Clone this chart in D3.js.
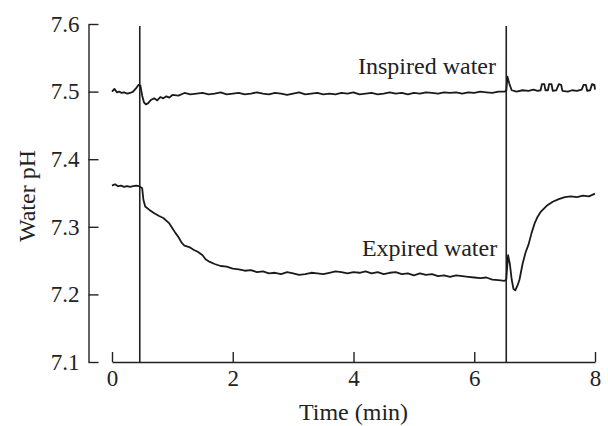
<!DOCTYPE html>
<html lang="en">
<head>
    <meta charset="UTF-8">
    <title>Water pH</title>
    <script src="https://d3js.org/d3.v7.min.js"></script>
    <style>
        body { margin: 0; background: #fff; }
        svg { display: block; font-family: "Liberation Serif", "Times New Roman", serif; }
    </style>
    <script>
        // event markers (min)
        const EVENTS = [0.46, 6.53];

        const X_TICKS = [0, 2, 4, 6, 8];
        const Y_TICKS = [7.1, 7.2, 7.3, 7.4, 7.5, 7.6];

        const inspiredTime = [
            0.00, 0.04, 0.08, 0.12, 0.16, 0.20, 0.25, 0.30, 0.35, 0.40, 0.44, 0.47, 0.50, 0.53, 0.56, 0.60,
            0.65, 0.70, 0.75, 0.80, 0.85, 0.90, 0.95, 1.00, 1.10, 1.20, 1.30, 1.40, 1.50, 1.60, 1.70, 1.80,
            1.90, 2.00, 2.10, 2.20, 2.30, 2.40, 2.50, 2.60, 2.70, 2.80, 2.90, 3.00, 3.10, 3.20, 3.30, 3.40,
            3.50, 3.60, 3.70, 3.80, 3.90, 4.00, 4.10, 4.20, 4.30, 4.40, 4.50, 4.60, 4.70, 4.80, 4.90, 5.00,
            5.10, 5.20, 5.30, 5.40, 5.50, 5.60, 5.70, 5.80, 5.90, 6.00, 6.10, 6.20, 6.30, 6.40, 6.50, 6.53,
            6.55, 6.58, 6.62, 6.70, 6.80, 6.90, 6.98, 7.05, 7.10, 7.12, 7.16, 7.18, 7.22, 7.24, 7.28, 7.30,
            7.36, 7.40, 7.44, 7.46, 7.55, 7.62, 7.70, 7.78, 7.81, 7.85, 7.87, 7.92, 7.95, 7.99, 8.00
        ];
        const inspiredPH = [
            7.500, 7.504, 7.499, 7.500, 7.498, 7.499, 7.497, 7.498, 7.500, 7.505, 7.510, 7.509, 7.494, 7.484, 7.481, 7.483,
            7.488, 7.490, 7.487, 7.492, 7.490, 7.493, 7.491, 7.495, 7.494, 7.498, 7.496, 7.497, 7.498, 7.496, 7.497, 7.499,
            7.496, 7.497, 7.498, 7.496, 7.497, 7.499, 7.497, 7.496, 7.498, 7.497, 7.495, 7.497, 7.499, 7.496, 7.497, 7.498,
            7.496, 7.497, 7.496, 7.498, 7.497, 7.499, 7.496, 7.497, 7.498, 7.496, 7.497, 7.499, 7.497, 7.498, 7.496, 7.498,
            7.497, 7.499, 7.498, 7.497, 7.499, 7.498, 7.499, 7.497, 7.499, 7.498, 7.500, 7.499, 7.498, 7.500, 7.500, 7.501,
            7.522, 7.512, 7.502, 7.500, 7.502, 7.501, 7.503, 7.501, 7.502, 7.511, 7.511, 7.502, 7.502, 7.511, 7.511, 7.501,
            7.502, 7.511, 7.510, 7.501, 7.500, 7.502, 7.501, 7.503, 7.510, 7.510, 7.501, 7.502, 7.511, 7.510, 7.503
        ];

        const expiredTime = [
            0.00, 0.05, 0.10, 0.15, 0.20, 0.25, 0.30, 0.35, 0.40, 0.45, 0.50, 0.52, 0.55, 0.62, 0.70, 0.78,
            0.85, 0.95, 1.00, 1.05, 1.10, 1.15, 1.20, 1.28, 1.35, 1.42, 1.50, 1.55, 1.62, 1.70, 1.80, 1.90,
            2.00, 2.10, 2.20, 2.30, 2.40, 2.50, 2.60, 2.70, 2.80, 2.90, 3.00, 3.10, 3.20, 3.30, 3.40, 3.50,
            3.60, 3.70, 3.80, 3.90, 4.00, 4.10, 4.20, 4.30, 4.40, 4.50, 4.60, 4.70, 4.80, 4.90, 5.00, 5.10,
            5.20, 5.30, 5.40, 5.50, 5.60, 5.70, 5.80, 5.90, 6.00, 6.10, 6.20, 6.30, 6.40, 6.50, 6.53, 6.56,
            6.59, 6.62, 6.65, 6.68, 6.72, 6.75, 6.80, 6.85, 6.90, 6.95, 7.00, 7.05, 7.10, 7.20, 7.30, 7.40,
            7.50, 7.60, 7.70, 7.80, 7.90, 8.00
        ];
        const expiredPH = [
            7.361, 7.363, 7.360, 7.361, 7.359, 7.360, 7.359, 7.360, 7.361, 7.360, 7.357, 7.340, 7.330, 7.325, 7.320, 7.316,
            7.313, 7.305, 7.298, 7.291, 7.285, 7.277, 7.272, 7.270, 7.266, 7.263, 7.258, 7.252, 7.248, 7.245, 7.242, 7.241,
            7.238, 7.237, 7.235, 7.236, 7.233, 7.234, 7.231, 7.232, 7.230, 7.233, 7.231, 7.229, 7.230, 7.232, 7.231, 7.230,
            7.232, 7.234, 7.233, 7.231, 7.233, 7.232, 7.234, 7.231, 7.233, 7.230, 7.232, 7.233, 7.230, 7.231, 7.228, 7.231,
            7.229, 7.230, 7.227, 7.228, 7.226, 7.228, 7.227, 7.226, 7.225, 7.224, 7.225, 7.222, 7.221, 7.220, 7.222, 7.258,
            7.245, 7.222, 7.208, 7.206, 7.214, 7.222, 7.245, 7.262, 7.274, 7.291, 7.305, 7.315, 7.322, 7.331, 7.337, 7.341,
            7.344, 7.345, 7.344, 7.346, 7.345, 7.349
        ];

        const LABELS = [
            {text: "Inspired water", t: 6.36, ph: 7.526},
            {text: "Expired water", t: 6.38, ph: 7.257}
        ];

        document.addEventListener("DOMContentLoaded", function() {
            drawChart();
        });

        function drawChart() {
            const width = 608, height = 426;
            const svg = d3.select("svg").attr("width", width).attr("height", height);

            const x = d3.scaleLinear().domain([0, 8]).range([112, 595]);
            const y = d3.scaleLinear().domain([7.1, 7.6]).range([362, 24]);
            const yAxisX = 88.5;

            // y axis, ticks pointing in
            const yAxis = svg.append("g")
                .attr("transform", "translate(" + yAxisX + ",0)")
                .call(d3.axisLeft(y).tickValues(Y_TICKS).tickFormat(d3.format(".1f"))
                    .tickSizeInner(-10).tickSizeOuter(0).tickPadding(9));

            const xAxis = svg.append("g")
                .attr("transform", "translate(0,362)")
                .call(d3.axisBottom(x).tickValues(X_TICKS).tickFormat(d3.format("d"))
                    .tickSizeInner(-10).tickSizeOuter(0).tickPadding(8));

            [yAxis, xAxis].forEach(function(g) {
                g.selectAll("path, line").attr("stroke", "#222").attr("stroke-width", 1.4);
                g.selectAll("text").attr("fill", "#222").style("font-size", "23px")
                    .style("font-family", "'Liberation Serif', serif");
            });

            // event markers
            svg.selectAll("line.event")
                .data(EVENTS)
                .enter()
                .append("line")
                .attr("class", "event")
                .attr("x1", d => x(d)).attr("x2", d => x(d))
                .attr("y1", y(7.597)).attr("y2", y(7.1))
                .attr("stroke", "#222")
                .attr("stroke-width", 1.6);

            const line = d3.line().x(d => x(d[0])).y(d => y(d[1]));
            const series = [
                d3.zip(inspiredTime, inspiredPH),
                d3.zip(expiredTime, expiredPH)
            ];

            svg.selectAll("path.trace")
                .data(series)
                .enter()
                .append("path")
                .attr("class", "trace")
                .attr("d", line)
                .attr("fill", "none")
                .attr("stroke", "#1a1a1a")
                .attr("stroke-width", 1.8)
                .attr("stroke-linejoin", "round");

            svg.selectAll("text.label")
                .data(LABELS)
                .enter()
                .append("text")
                .attr("class", "label")
                .attr("x", d => x(d.t))
                .attr("y", d => y(d.ph))
                .attr("text-anchor", "end")
                .attr("fill", "#222")
                .style("font-size", "24px")
                .text(d => d.text);

            svg.append("text")
                .attr("x", (x(0) + x(8)) / 2)
                .attr("y", 420)
                .attr("text-anchor", "middle")
                .attr("fill", "#222")
                .style("font-size", "24px")
                .text("Time (min)");

            svg.append("text")
                .attr("transform", "translate(35,196) rotate(-90)")
                .attr("text-anchor", "middle")
                .attr("fill", "#222")
                .style("font-size", "24px")
                .text("Water pH");
        }
    </script>
</head>
<body>
    <svg id="chart"></svg>
</body>
</html>
